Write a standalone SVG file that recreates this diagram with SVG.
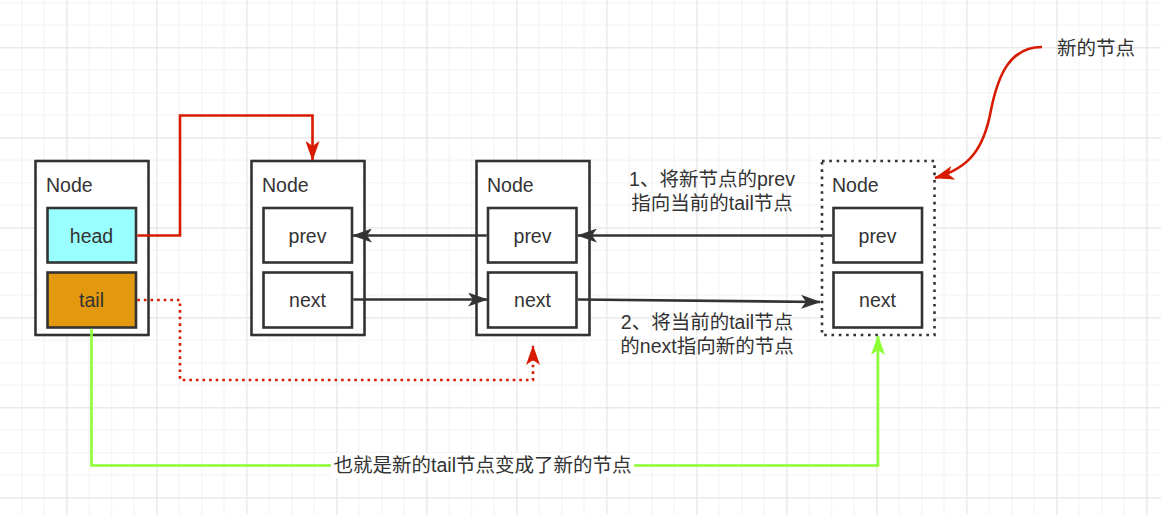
<svg xmlns="http://www.w3.org/2000/svg" width="1161" height="515" viewBox="0 0 1161 515">
<style>
.box{fill:#fff;stroke:#333;stroke-width:2.6}
.dot{fill:#fff;stroke:#333;stroke-width:2.6;stroke-dasharray:2.6 4.7}
.t{font-family:"Microsoft YaHei","Liberation Sans","Noto Sans CJK SC",sans-serif;font-size:19.5px;fill:#333}
.c{text-anchor:middle}
.blk{fill:none;stroke:#333;stroke-width:2.6}
.red{fill:none;stroke:#d81b00;stroke-width:2.6}
.grn{fill:none;stroke:#8cff33;stroke-width:2.6}
</style>
<defs>
<pattern id="grid" patternUnits="userSpaceOnUse" x="66.2" y="47.2" width="90" height="90">
<rect x="22.5" y="0" width="1" height="90" fill="#f2f2f2"/>
<rect x="45" y="0" width="1" height="90" fill="#f2f2f2"/>
<rect x="67.5" y="0" width="1" height="90" fill="#f2f2f2"/>
<rect x="0" y="22.5" width="90" height="1" fill="#f2f2f2"/>
<rect x="0" y="45" width="90" height="1" fill="#f2f2f2"/>
<rect x="0" y="67.5" width="90" height="1" fill="#f2f2f2"/>
<rect x="0" y="0" width="1.3" height="90" fill="#e6e6e6"/>
<rect x="0" y="0" width="90" height="1.3" fill="#e6e6e6"/>
</pattern>
<marker id="ab" viewBox="0 0 20 14" refX="19" refY="7" markerWidth="20" markerHeight="14" markerUnits="userSpaceOnUse" orient="auto">
<path d="M0,0 L20,7 L0,14 L5,7 Z" fill="#333"/>
</marker>
<marker id="ar" viewBox="0 0 20 14" refX="19" refY="7" markerWidth="20" markerHeight="14" markerUnits="userSpaceOnUse" orient="auto">
<path d="M0,0 L20,7 L0,14 L5,7 Z" fill="#d81b00"/>
</marker>
<marker id="ag" viewBox="0 0 20 14" refX="19" refY="7" markerWidth="20" markerHeight="14" markerUnits="userSpaceOnUse" orient="auto">
<path d="M0,0 L20,7 L0,14 L5,7 Z" fill="#8cff33"/>
</marker>
</defs>
<rect width="1161" height="515" fill="#fff"/>
<rect width="1161" height="515" fill="url(#grid)"/>

<g id="node1">
<rect class="box" x="35.5" y="161" width="113" height="174"/>
<text class="t" x="46" y="192">Node</text>
<rect x="47.5" y="208" width="88.5" height="54.5" fill="#99ffff" stroke="#333" stroke-width="2.6"/>
<text class="t c" x="91.5" y="242.5">head</text>
<rect x="47.5" y="272.5" width="88.5" height="55" fill="#e3990f" stroke="#333" stroke-width="2.6"/>
<text class="t c" x="91.5" y="307">tail</text>
</g>

<g id="node2">
<rect class="box" x="251.5" y="161" width="113" height="174"/>
<text class="t" x="262" y="192">Node</text>
<rect class="box" x="263.5" y="208" width="88.5" height="54.5"/>
<text class="t c" x="307.5" y="242.5">prev</text>
<rect class="box" x="263.5" y="272.5" width="88.5" height="55"/>
<text class="t c" x="307.5" y="307">next</text>
</g>

<g id="node3">
<rect class="box" x="476.5" y="161" width="113" height="174"/>
<text class="t" x="487" y="192">Node</text>
<rect class="box" x="488" y="208" width="88.5" height="54.5"/>
<text class="t c" x="532.5" y="242.5">prev</text>
<rect class="box" x="488" y="272.5" width="88.5" height="55"/>
<text class="t c" x="532.5" y="307">next</text>
</g>

<g id="node4">
<rect class="dot" x="822" y="161" width="112.5" height="174"/>
<text class="t" x="832" y="192">Node</text>
<rect class="box" x="833.5" y="208" width="88.5" height="54.5"/>
<text class="t c" x="877.5" y="242.5">prev</text>
<rect class="box" x="833.5" y="272.5" width="88.5" height="55"/>
<text class="t c" x="877.5" y="307">next</text>
</g>

<g id="connectors">
<path class="red" d="M137.3,235.5 H180 V115.5 H312.5 V160" marker-end="url(#ar)"/>
<path class="red" d="M137.3,300 H180 V380 H533 V346" stroke-dasharray="2.6 4" marker-end="url(#ar)"/>
<path class="grn" d="M91.5,328.8 V465.5 H878 V336" marker-end="url(#ag)"/>
<path class="blk" d="M486.7,235.5 H353" marker-end="url(#ab)"/>
<path class="blk" d="M353.3,299.5 H487" marker-end="url(#ab)"/>
<path class="blk" d="M832.2,235.5 H578" marker-end="url(#ab)"/>
<path class="blk" d="M577.8,299.5 L820,302" marker-end="url(#ab)"/>
<path class="red" d="M1042,47 C1010,47 998,75 991,110 C984,148 970,168 935,178" marker-end="url(#ar)"/>
<rect x="331" y="453" width="303" height="25" fill="#fff"/>
<text class="t c" x="482.5" y="472">也就是新的tail节点变成了新的节点</text>
</g>

<g id="label-new">
<text class="t" x="1057" y="55">新的节点</text>
</g>
<g id="label-step1">
<text class="t c" x="712" y="186">1、将新节点的prev</text>
<text class="t c" x="712" y="210">指向当前的tail节点</text>
</g>
<g id="label-step2">
<text class="t c" x="707" y="329">2、将当前的tail节点</text>
<text class="t c" x="707" y="353">的next指向新的节点</text>
</g>
</svg>
